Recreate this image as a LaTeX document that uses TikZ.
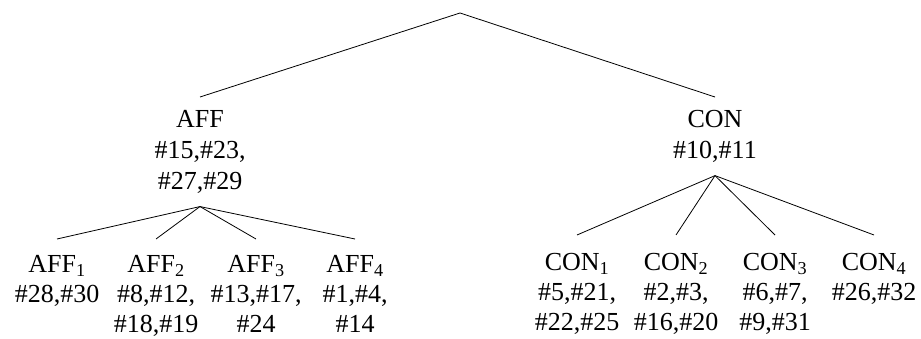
\documentclass[tikz,border=0pt]{standalone}
\usepackage{fontspec}
\setmainfont{Liberation Serif}
\begin{document}
\begin{tikzpicture}[x=1pt,y=-1pt,
  lbl/.style={anchor=north,align=center,inner xsep=0pt,
    font=\fontsize{26}{31}\selectfont},
  mid/.style={lbl,inner ysep=13pt},
  leafa/.style={lbl,inner ysep=16pt,font=\fontsize{26}{30}\selectfont},
  leafc/.style={lbl,inner ysep=18pt,font=\fontsize{26}{30}\selectfont},
  edge/.style={draw,line width=0.8pt}]
\useasboundingbox (0,0) rectangle (921,339);

% top of the tree
\coordinate (root) at (460,13);

% first level
\node[mid] (aff) at (200,97) {AFF\\\#15,\#23,\\\#27,\#29};
\node[mid] (con) at (715,97) {CON\\\#10,\#11};

% AFF subcategories
\node[leafa] (aff1) at (57,239)  {AFF\textsubscript{1}\\\#28,\#30};
\node[leafa] (aff2) at (156,239) {AFF\textsubscript{2}\\\#8,\#12,\\\#18,\#19};
\node[leafa] (aff3) at (256,239) {AFF\textsubscript{3}\\\#13,\#17,\\\#24};
\node[leafa] (aff4) at (355,239) {AFF\textsubscript{4}\\\#1,\#4,\\\#14};

% CON subcategories
\node[leafc] (con1) at (577,235) {CON\textsubscript{1}\\\#5,\#21,\\\#22,\#25};
\node[leafc] (con2) at (676,235) {CON\textsubscript{2}\\\#2,\#3,\\\#16,\#20};
\node[leafc] (con3) at (775,235) {CON\textsubscript{3}\\\#6,\#7,\\\#9,\#31};
\node[leafc] (con4) at (874,235) {CON\textsubscript{4}\\\#26,\#32};

% branches
\path[edge] (root) -- (aff.north);
\path[edge] (root) -- (con.north);
\foreach \c in {aff1,aff2,aff3,aff4} \path[edge] (aff.south) -- (\c.north);
\foreach \c in {con1,con2,con3,con4} \path[edge] (con.south) -- (\c.north);
\end{tikzpicture}
\end{document}
